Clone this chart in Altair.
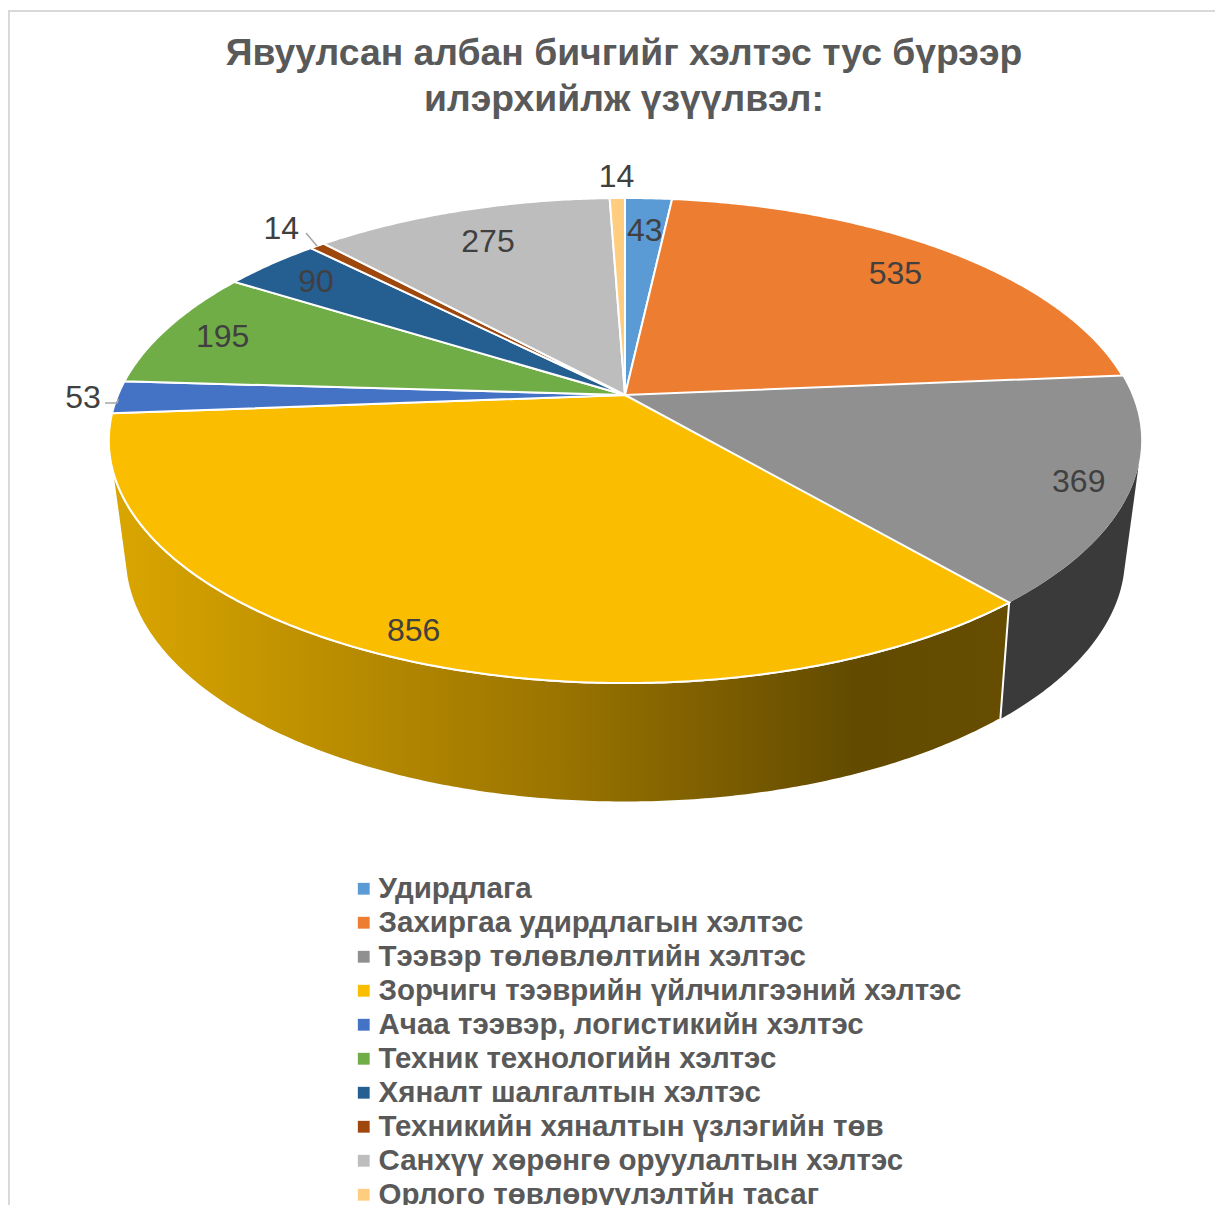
import math
import altair as alt

categories = [
    "Удирдлага",
    "Захиргаа удирдлагын хэлтэс",
    "Тээвэр төлөвлөлтийн хэлтэс",
    "Зорчигч тээврийн үйлчилгээний хэлтэс",
    "Ачаа тээвэр, логистикийн хэлтэс",
    "Техник технологийн хэлтэс",
    "Хяналт шалгалтын хэлтэс",
    "Техникийн хяналтын үзлэгийн төв",
    "Санхүү хөрөнгө оруулалтын хэлтэс",
    "Орлого төвлөрүүлэлтйн тасаг",
]
values = [43, 535, 369, 856, 53, 195, 90, 14, 275, 14]
colors = ["#5B9BD5", "#ED7D31", "#909090", "#FBBD00", "#4472C4",
          "#70AD47", "#255E91", "#9E480E", "#BDBDBD", "#FFCD80"]
label_radius = [0.813, 0.825, 0.905, 0.915, 1.067, 0.875, 0.86, 1.135, 0.812, 1.135]
title_lines = ["Явуулсан албан бичгийг хэлтэс тус бүрээр", "илэрхийлж үзүүлвэл:"]

CX = 625
TOP = dict(cy=395, a=507, b=234, k=0.1877)
BOTTOM = dict(cy=507.5, a=490, b=236, k=0.2)
WALL_FROM, WALL_TO = 106, 254


def project(deg, r=1.0, plane=TOP):
    t = math.radians(deg)
    d = 1 + plane["k"] * r * math.cos(t)
    return [CX + plane["a"] * r * math.sin(t) / d,
            plane["cy"] - plane["b"] * r * math.cos(t) / d]


def arc(a0, a1, plane=TOP):
    n = max(2, int(abs(a1 - a0) * 2))
    return [project(a0 + (a1 - a0) * i / n, 1.0, plane) for i in range(n + 1)]


def feature(ring, **props):
    return {"type": "Feature", "properties": props,
            "geometry": {"type": "Polygon", "coordinates": [ring + [ring[0]]]}}


def line(points):
    return {"type": "Feature", "properties": {},
            "geometry": {"type": "LineString", "coordinates": points}}


total = sum(values)
edges = [0.0]
for v in values:
    edges.append(edges[-1] + v / total * 360)

slices = []
for i, name in enumerate(categories):
    slices.append(feature([project(0, 0)] + arc(edges[i], edges[i + 1]), name=name))

labels = []
for i, v in enumerate(values):
    mid = (edges[i] + edges[i + 1]) / 2
    x, y = project(mid, label_radius[i])
    labels.append({"lon": x, "lat": y, "text": str(v)})

grey_i = categories.index("Тээвэр төлөвлөлтийн хэлтэс")
yellow_i = categories.index("Зорчигч тээврийн үйлчилгээний хэлтэс")
split = edges[yellow_i]


def wall(a0, a1):
    return feature(arc(a0, a1, TOP) + arc(a0, a1, BOTTOM)[::-1])


color = alt.Color(
    "properties.name:N",
    scale=alt.Scale(domain=categories, range=colors),
    legend=alt.Legend(
        title=None, orient="none", legendX=341, legendY=866,
        symbolType="square", symbolSize=140, symbolStrokeWidth=0,
        labelFont="Liberation Sans", labelFontWeight="bold", labelFontSize=29.5,
        labelColor="#595959", labelLimit=800, labelOffset=0, rowPadding=3,
        columns=1,
    ),
)

grey_wall = alt.Chart(alt.Data(values=[wall(WALL_FROM, split)])).mark_geoshape(
    fill="#3A3A3A", strokeWidth=0)
yellow_wall = alt.Chart(alt.Data(values=[wall(split, WALL_TO)])).mark_geoshape(
    fill=alt.Gradient(
        gradient="linear", x1=1, x2=0, y1=0, y2=0,
        stops=[alt.GradientStop(color="#664D00", offset=0),
               alt.GradientStop(color="#624A00", offset=0.17),
               alt.GradientStop(color="#9A7400", offset=0.5),
               alt.GradientStop(color="#DAA600", offset=1)]),
    stroke="white", strokeWidth=2)
grey_top = alt.Chart(alt.Data(values=[slices[grey_i]])).mark_geoshape(
    strokeWidth=0).encode(color=color)
other_top = alt.Chart(alt.Data(values=[s for j, s in enumerate(slices) if j != grey_i])).mark_geoshape(
    stroke="white", strokeWidth=2).encode(color=color)
leaders = alt.Chart(alt.Data(values=[
    line([[105, 403], [117, 403], [118.5, 399]]),
    line([[306, 233], [317, 246]]),
])).mark_geoshape(filled=False, stroke="#A6A6A6", strokeWidth=1.5)
frame = alt.Chart(alt.Data(values=[line([[9, 1205], [9, 11], [1215, 11]])])).mark_geoshape(
    filled=False, stroke="#D9D9D9", strokeWidth=2)
text = alt.Chart(alt.Data(values=labels)).mark_text(
    font="Liberation Sans", fontSize=32, color="#404040", baseline="middle", align="center", dy=1
).encode(longitude="lon:Q", latitude="lat:Q", text="text:N")

chart = alt.layer(frame, grey_wall, yellow_wall, grey_top, other_top, leaders, text).project(
    type="identity", scale=1, translate=[-8, -8]
).properties(
    width=1216, height=1197,
    title=alt.TitleParams(
        text=title_lines, font="Liberation Sans", fontWeight="bold", fontSize=37.3,
        color="#595959", lineHeight=46, anchor="middle", orient="top", dy=111, dx=8, offset=0,
    ),
    autosize=alt.AutoSizeParams(type="none"),
    padding=0,
).configure_view(stroke=None)

chart.save("out.html", embed_options={"renderer": "svg", "actions": False})
